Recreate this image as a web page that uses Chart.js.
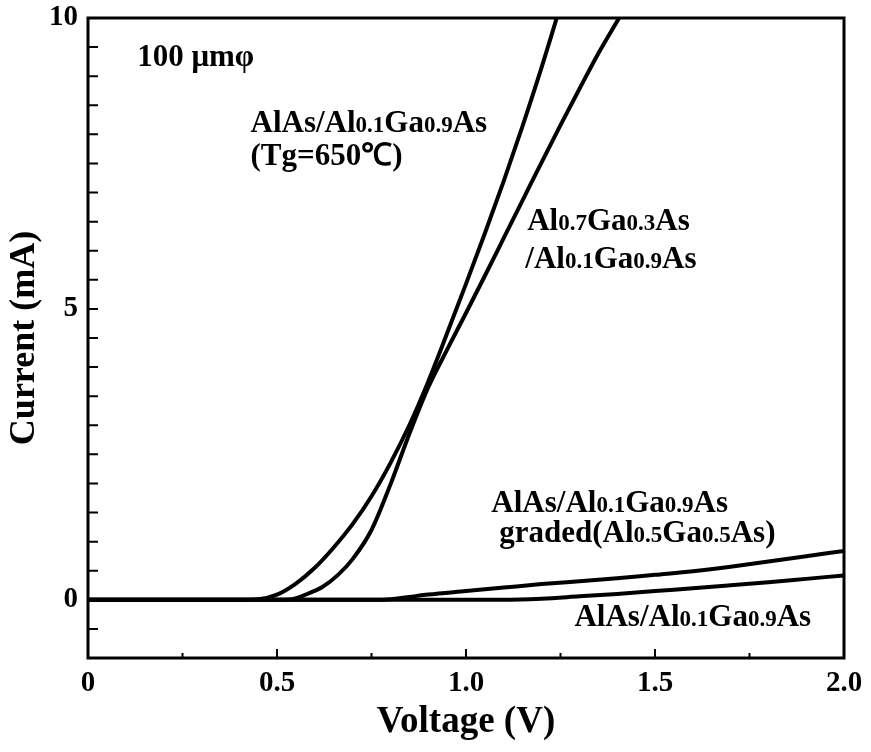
<!DOCTYPE html>
<html>
<head>
<meta charset="utf-8">
<script src="https://cdn.jsdelivr.net/npm/chart.js@4.4.1/dist/chart.umd.min.js"></script>
<style>
  html, body { margin: 0; padding: 0; background: #fff; }
</style>
</head>
<body>
<canvas id="ivChart" width="871" height="752"></canvas>
<script>
// AlAs/Al0.1Ga0.9As (Tg=650C)
var voltsA = [0, 0.4, 0.45, 0.5, 0.55, 0.6, 0.65, 0.7, 0.75, 0.8, 0.85, 0.9, 0.95, 1.0, 1.05, 1.1, 1.15, 1.2, 1.24];
var currA = [0, 0, 0.01, 0.09, 0.28, 0.55, 0.9, 1.3, 1.78, 2.35, 3.0, 3.75, 4.58, 5.43, 6.3, 7.2, 8.15, 9.15, 10];
// Al0.7Ga0.3As/Al0.1Ga0.9As
var voltsB = [0, 0.5, 0.54, 0.58, 0.62, 0.66, 0.7, 0.75, 0.8, 0.85, 0.9, 0.95, 1.0, 1.05, 1.1, 1.15, 1.2, 1.25, 1.3, 1.35, 1.405];
var currB = [0, 0, 0.01, 0.1, 0.22, 0.42, 0.7, 1.2, 1.98, 2.85, 3.65, 4.3, 4.93, 5.57, 6.22, 6.87, 7.52, 8.16, 8.78, 9.39, 10];
// graded (Al0.5Ga0.5As)
var voltsC = [0, 0.75, 0.8, 0.85, 0.9, 1.0, 1.1, 1.2, 1.3, 1.4, 1.5, 1.6, 1.7, 1.8, 1.9, 2.0];
var currC = [0, 0, 0.01, 0.05, 0.09, 0.15, 0.21, 0.27, 0.32, 0.37, 0.43, 0.49, 0.57, 0.66, 0.75, 0.84];
// AlAs/Al0.1Ga0.9As
var voltsD = [0, 1.1, 1.2, 1.3, 1.4, 1.5, 1.6, 1.7, 1.8, 1.9, 2.0];
var currD = [0, 0, 0.02, 0.06, 0.1, 0.15, 0.2, 0.25, 0.3, 0.36, 0.42];

var xLabels = ['0', '0.5', '1.0', '1.5', '2.0'];
var yLabels = ['0', '5', '10'];

// {..} marks the small composition numbers
var notes = [
    { v: 0.13, i: 9.18, text: '100 \u03bcm\u03c6' },
    { v: 0.43, i: 8.04, text: 'AlAs/Al{0.1}Ga{0.9}As' },
    { v: 0.43, i: 7.48, text: '(Tg=650\u2103)' },
    { v: 1.162, i: 6.36, text: 'Al{0.7}Ga{0.3}As' },
    { v: 1.157, i: 5.71, text: '/Al{0.1}Ga{0.9}As' },
    { v: 1.067, i: 1.51, text: 'AlAs/Al{0.1}Ga{0.9}As' },
    { v: 1.088, i: 0.99, text: 'graded(Al{0.5}Ga{0.5}As)' },
    { v: 1.287, i: -0.45, text: 'AlAs/Al{0.1}Ga{0.9}As' }
];

var serif = '"Liberation Serif", "Times New Roman", serif';

function toPoints(xs, ys) {
    return xs.map(function (x, k) { return { x: x, y: ys[k] }; });
}

function curve(xs, ys) {
    return {
        data: toPoints(xs, ys),
        showLine: true,
        borderColor: '#000',
        borderWidth: 4,
        pointRadius: 0,
        cubicInterpolationMode: 'monotone'
    };
}

function isHalf(v) {
    return Math.abs(v * 2 - Math.round(v * 2)) < 1e-6;
}

function drawRich(ctx, str, x, y, size) {
    str.split(/(\{[^}]*\})/).forEach(function (p) {
        if (!p) return;
        var small = p.charAt(0) === '{';
        var txt = small ? p.slice(1, -1) : p;
        ctx.font = 'bold ' + (small ? Math.round(size * 0.75) : size) + 'px ' + serif;
        ctx.fillText(txt, x, y);
        x += ctx.measureText(txt).width;
    });
}

// box frame + inward ticks
var framePlugin = {
    id: 'frame',
    afterDatasetsDraw: function (chart) {
        var ctx = chart.ctx, a = chart.chartArea;
        var xs = chart.scales.x, ys = chart.scales.y;
        ctx.save();
        ctx.strokeStyle = '#000';
        ctx.lineWidth = 2;
        ctx.beginPath();
        xs.ticks.forEach(function (t) {
            if (t.value <= xs.min || t.value >= xs.max) return;
            var px = xs.getPixelForValue(t.value);
            var len = isHalf(t.value) ? 9 : 5;
            ctx.moveTo(px, a.bottom);
            ctx.lineTo(px, a.bottom - len);
        });
        ys.ticks.forEach(function (t) {
            if (t.value <= ys.min || t.value >= ys.max) return;
            var py = ys.getPixelForValue(t.value);
            ctx.moveTo(a.left, py);
            ctx.lineTo(a.left + 10, py);
        });
        ctx.stroke();
        ctx.lineWidth = 3;
        ctx.strokeRect(a.left, a.top, a.right - a.left, a.bottom - a.top);
        ctx.restore();
    },
    afterDraw: function (chart) {
        var ctx = chart.ctx;
        var xs = chart.scales.x, ys = chart.scales.y;
        ctx.save();
        ctx.fillStyle = '#000';
        ctx.textAlign = 'left';
        ctx.textBaseline = 'alphabetic';
        notes.forEach(function (n) {
            drawRich(ctx, n.text, xs.getPixelForValue(n.v), ys.getPixelForValue(n.i), 31);
        });
        ctx.restore();
    }
};

new Chart(document.getElementById('ivChart').getContext('2d'), {
    type: 'scatter',
    data: {
        datasets: [
            curve(voltsA, currA),
            curve(voltsB, currB),
            curve(voltsC, currC),
            curve(voltsD, currD)
        ]
    },
    options: {
        responsive: false,
        animation: false,
        layout: { padding: { top: 18, right: 27, left: 0, bottom: 0 } },
        plugins: {
            legend: { display: false },
            tooltip: { enabled: false }
        },
        scales: {
            x: {
                type: 'linear',
                min: 0,
                max: 2,
                afterFit: function (s) { s.height = 94; s.paddingLeft = 0; s.paddingRight = 0; },
                grid: { display: false, drawTicks: false },
                border: { display: false },
                ticks: {
                    stepSize: 0.25,
                    autoSkip: false,
                    maxRotation: 0,
                    minRotation: 0,
                    padding: 8,
                    color: '#000',
                    font: { family: serif, size: 29, weight: 'bold' },
                    callback: function (v) {
                        return isHalf(v) ? xLabels[Math.round(v * 2)] : '';
                    }
                },
                title: {
                    display: true,
                    text: 'Voltage (V)',
                    color: '#000',
                    font: { family: serif, size: 37, weight: 'bold' },
                    padding: { top: 0, bottom: 7 }
                }
            },
            y: {
                type: 'linear',
                min: -1,
                max: 10,
                afterFit: function (s) { s.width = 88; s.paddingTop = 0; s.paddingBottom = 0; },
                grid: { display: false, drawTicks: false },
                border: { display: false },
                ticks: {
                    stepSize: 0.5,
                    autoSkip: false,
                    padding: 10,
                    color: '#000',
                    font: { family: serif, size: 29, weight: 'bold' },
                    callback: function (v) {
                        var k = [0, 5, 10].indexOf(v);
                        return k >= 0 ? yLabels[k] : '';
                    }
                },
                title: {
                    display: true,
                    text: 'Current (mA)',
                    color: '#000',
                    font: { family: serif, size: 36, weight: 'bold' },
                    padding: { top: 3, bottom: 0 }
                }
            }
        }
    },
    plugins: [framePlugin]
});
</script>
</body>
</html>
